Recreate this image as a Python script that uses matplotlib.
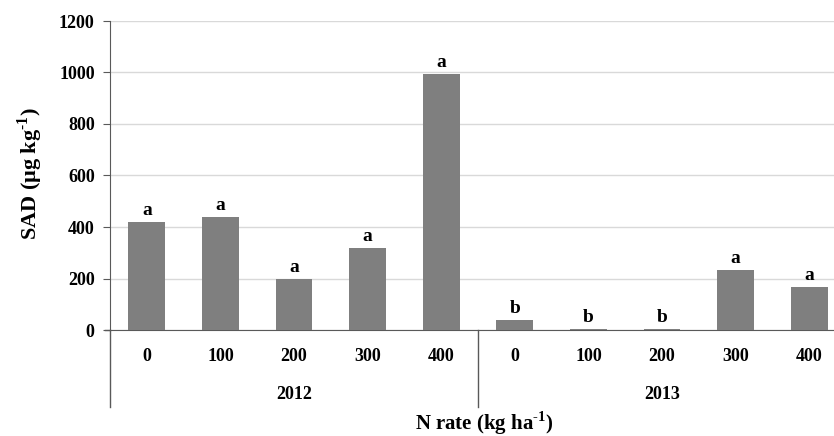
import matplotlib.pyplot as plt
import numpy as np

# data
years = ["2012", "2013"]
n_rates = ["0", "100", "200", "300", "400"]
sad_2012 = [419, 439, 198, 318, 995]
sad_2013 = [39, 3, 3, 233, 167]
letters_2012 = ["a", "a", "a", "a", "a"]
letters_2013 = ["b", "b", "b", "a", "a"]

values = sad_2012 + sad_2013
letters = letters_2012 + letters_2013
tick_labels = n_rates + n_rates

plt.rcParams["font.family"] = ["Liberation Serif", "DejaVu Serif"]
plt.rcParams["font.weight"] = "bold"

AXIS_COL = "#595959"
BAR_COL = "#7f7f7f"
GRID_COL = "#d9d9d9"
TICK_FS = 13

fig = plt.figure(figsize=(8.34, 4.36), dpi=100)
ax = fig.add_axes([110 / 834, 106 / 436, 736 / 834, 309 / 436])

x = np.arange(len(values))
ax.bar(x, values, width=0.5, color=BAR_COL, zorder=3)

for xi, v, lab in zip(x, values, letters):
    ax.annotate(lab, (xi, v), xytext=(0, 2), textcoords="offset points",
                ha="center", va="bottom", fontsize=14, fontweight="bold")

ax.set_xlim(-0.5, len(values) - 0.5)
ax.set_ylim(0, 1200)
ax.set_yticks(range(0, 1201, 200))
ax.yaxis.grid(True, color=GRID_COL, linewidth=1, zorder=0)
ax.tick_params(axis="y", length=5, color=AXIS_COL, labelsize=TICK_FS, pad=6)
ax.set_xticks([])

for side in ["top", "right"]:
    ax.spines[side].set_visible(False)
ax.spines["left"].set_color(AXIS_COL)
ax.spines["bottom"].set_color(AXIS_COL)

# category labels below the axis
trans = ax.get_xaxis_transform()
for xi, lab in zip(x, tick_labels):
    ax.text(xi, -0.087, lab, transform=trans, ha="center", va="center",
            fontsize=TICK_FS, fontweight="bold")

for i, yr in enumerate(years):
    ax.text(i * 5 + 2, -0.21, yr, transform=trans, ha="center", va="center",
            fontsize=TICK_FS, fontweight="bold")

# group separators
for xs in [-0.5, 4.5, 9.5]:
    ax.plot([xs, xs], [0, -0.249], transform=trans, color=AXIS_COL,
            linewidth=1, clip_on=False)

# y=0 tick stub to the left
ax.plot([-0.5 - 5 / 73.6, -0.5], [0, 0], color=AXIS_COL, linewidth=1, clip_on=False)

fig.text(484 / 834, 1 - 423 / 436, "N rate (kg ha$^{\\mathregular{\u20101}}$)",
         ha="center", va="center", fontsize=15, fontweight="bold")
fig.text(30 / 834, 1 - 174 / 436, "SAD (µg kg$^{\\mathregular{\u20101}}$)",
         ha="center", va="center", rotation=90, fontsize=16, fontweight="bold")

fig.savefig("out.png", dpi=100)
